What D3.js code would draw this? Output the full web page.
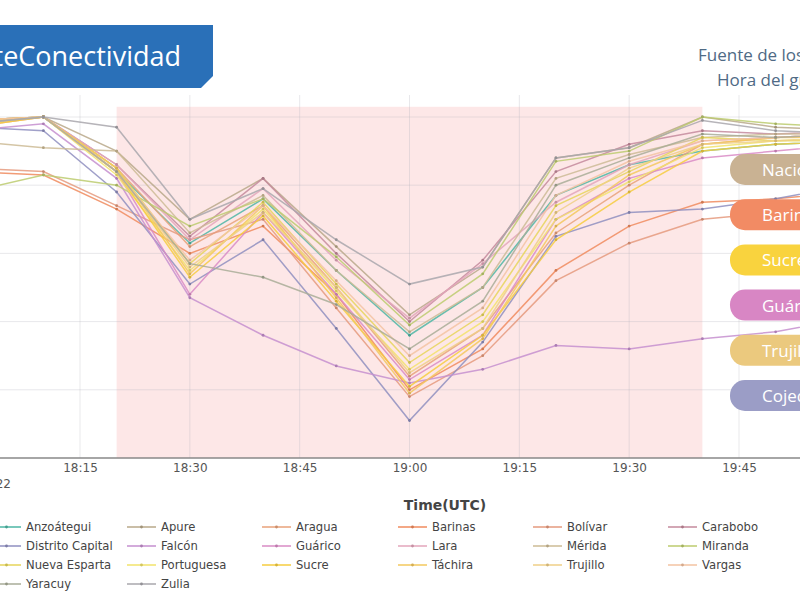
<!DOCTYPE html>
<html>
<head>
<meta charset="utf-8">
<script src="https://cdn.jsdelivr.net/npm/d3@7"></script>
<style>
  body { margin: 0; background: #fff; }
  svg { display: block; }
</style>
</head>
<body>
<div class="content"></div>
<script>
// time points every 10 minutes (UTC)
var times = ["18:00","18:10","18:20","18:30","18:40","18:50","19:00","19:10","19:20","19:30","19:40","19:50","20:00"];
var tickLabels = ["18:15","18:30","18:45","19:00","19:15","19:30","19:45"];
var yTicks = [20, 40, 60, 80, 100];

var states = ["Anzoátegui","Apure","Aragua","Barinas","Bolívar","Carabobo",
              "Distrito Capital","Falcón","Guárico","Lara","Mérida","Miranda",
              "Nueva Esparta","Portuguesa","Sucre","Táchira","Trujillo","Vargas",
              "Yaracuy","Zulia"];

var colors = ["#4db6a4","#b8a88a","#e8a27a","#f08b5e","#e59a7e","#c48a9c",
              "#8f8fc0","#c58fcf","#d98bc5","#e3a6bb","#cdbb95","#bccb6e",
              "#e6d55a","#f2e36b","#f6cd3f","#f3c85e","#efcf87","#f3c3a2",
              "#a9ad98","#a9a7ad"];

var anzoategui = [99,100,84,63,76,55,36,50,77,86,90,92,93];
var apure      = [98,100,90,70,82,62,42,56,88,91,100,97,96];
var aragua     = [97,100,85,62,74,50,24,38,66,80,92,94,95];
var barinas    = [84,83,73,60,68,48,20,32,55,68,75,76,78];
var bolivar    = [85,84,74,64,70,44,18,30,52,63,70,72,74];
var carabobo   = [99,100,86,65,82,60,40,58,84,92,96,95,96];
var distrito   = [97,96,78,51,64,38,11,34,65,72,73,76,80];
var falcon     = [96,98,82,47,36,27,22,26,33,32,35,37,41];
var guarico    = [98,100,84,48,72,48,23,36,70,82,88,90,92];
var lara       = [99,100,86,64,79,58,41,57,75,86,93,94,95];
var merida     = [93,91,90,66,77,55,37,50,82,89,94,95,95];
var miranda    = [78,83,80,68,76,59,39,54,87,90,100,98,97];
var nuevaEsp   = [99,100,85,57,75,51,28,42,74,84,94,93,93];
var portuguesa = [98,100,83,55,73,49,26,40,70,81,91,93,94];
var sucre      = [97,100,84,53,71,46,21,36,64,78,90,92,93];
var tachira    = [99,100,85,54,74,47,19,35,68,83,92,94,94];
var trujillo   = [98,100,84,56,72,50,25,38,72,85,92,93,94];
var vargas     = [99,100,84,58,74,52,30,44,77,87,93,94,95];
var yaracuy    = [98,100,84,57,53,45,32,46,80,88,95,94,95];
var zulia      = [98,100,97,70,79,64,51,56,88,91,99,96,95];

var values = [anzoategui,apure,aragua,barinas,bolivar,carabobo,distrito,falcon,
              guarico,lara,merida,miranda,nuevaEsp,portuguesa,sucre,tachira,
              trujillo,vargas,yaracuy,zulia];

var pills = ["Nacional","Barinas","Sucre","Guárico","Trujillo","Cojedes"];
var pillColors = ["#c9b293","#f28b64","#f9d33e","#d886c4","#ebc97e","#9b9dc6"];

var parse = d3.timeParse("%H:%M");

var svg = d3.select(".content")
  .append("svg")
  .attr("width", 800)
  .attr("height", 600)

var x = d3.scaleTime()
  .domain([parse("18:15"), parse("19:45")])
  .range([80, 739])

var y = d3.scaleLinear()
  .domain([0, 100])
  .range([458, 117])

// outage window
svg.append("rect")
  .attr("x", x(parse("18:20")))
  .attr("y", y(103))
  .attr("width", x(parse("19:40")) - x(parse("18:20")))
  .attr("height", y(0) - y(103))
  .attr("fill", "#fde7e7")

// grid
svg.selectAll(".vgrid")
  .data(tickLabels)
  .enter()
  .append("line")
  .attr("x1", function(d){ return x(parse(d)); })
  .attr("x2", function(d){ return x(parse(d)); })
  .attr("y1", 95)
  .attr("y2", 458)
  .attr("stroke", "rgba(180,180,190,0.3)")

svg.selectAll(".hgrid")
  .data(yTicks)
  .enter()
  .append("line")
  .attr("x1", 0)
  .attr("x2", 800)
  .attr("y1", function(d){ return y(d); })
  .attr("y2", function(d){ return y(d); })
  .attr("stroke", "rgba(180,180,190,0.3)")

// axis
svg.append("line")
  .attr("x1", 0).attr("x2", 800)
  .attr("y1", 458).attr("y2", 458)
  .attr("stroke", "#888")
  .attr("stroke-width", 1.5)

var xAxis = svg.append("g")
  .attr("transform", "translate(0,458)")
  .call(d3.axisBottom(x)
    .tickValues(tickLabels.map(parse))
    .tickFormat(d3.timeFormat("%H:%M"))
    .tickSize(0)
    .tickPadding(5))
xAxis.select(".domain").remove()
xAxis.selectAll("text")
  .attr("font-family", "DejaVu Sans")
  .attr("font-size", 12)
  .attr("fill", "#555")

svg.append("text")
  .text("2022")
  .attr("x", 11)
  .attr("y", 488)
  .attr("text-anchor", "end")
  .attr("font-family", "DejaVu Sans")
  .attr("font-size", 12)
  .attr("fill", "#555")

svg.append("text")
  .text("Time(UTC)")
  .attr("x", 445)
  .attr("y", 510)
  .attr("text-anchor", "middle")
  .attr("font-family", "DejaVu Sans")
  .attr("font-weight", "bold")
  .attr("font-size", 14)
  .attr("fill", "#444")

// series
var line = d3.line()
  .x(function(d, i){ return x(parse(times[i])); })
  .y(function(d){ return y(d); })

var g = svg.selectAll(".series")
  .data(values)
  .enter()
  .append("g")
  .attr("class", "series")

g.append("path")
  .attr("d", function(d){ return line(d); })
  .attr("fill", "none")
  .attr("stroke", function(d, i){ return colors[i]; })
  .attr("stroke-width", 1.5)
  .attr("opacity", 0.85)

g.each(function(d, k) {
  d3.select(this).selectAll("circle")
    .data(d)
    .enter()
    .append("circle")
    .attr("cx", function(v, i){ return x(parse(times[i])); })
    .attr("cy", function(v){ return y(v); })
    .attr("r", 1.4)
    .attr("fill", d3.color(colors[k]).darker(0.4))
})

// title box
svg.append("path")
  .attr("d", "M-10,25 L213,25 L213,76 L201,88 L-10,88 Z")
  .attr("fill", "#2a70b8")

svg.append("text")
  .text("#ReporteConectividad")
  .attr("x", 181)
  .attr("y", 66)
  .attr("text-anchor", "end")
  .attr("font-family", "Open Sans")
  .attr("font-size", 27)
  .attr("fill", "#fff")

svg.append("text")
  .text("Fuente de los datos: IODA")
  .attr("x", 698)
  .attr("y", 61)
  .attr("font-family", "Open Sans")
  .attr("font-size", 17)
  .attr("fill", "#4f6a85")

svg.append("text")
  .text("Hora del gráfico: UTC")
  .attr("x", 717)
  .attr("y", 86)
  .attr("font-family", "Open Sans")
  .attr("font-size", 17)
  .attr("fill", "#4f6a85")

// right side labels
var p = svg.selectAll(".pill")
  .data(pills)
  .enter()
  .append("g")
  .attr("class", "pill")
  .attr("transform", function(d, i){ return "translate(730," + (154 + i * 45.2) + ")"; })

p.append("rect")
  .attr("width", 130)
  .attr("height", 31)
  .attr("rx", 15)
  .attr("fill", function(d, i){ return pillColors[i]; })

p.append("text")
  .text(function(d){ return d; })
  .attr("x", 32)
  .attr("y", 22)
  .attr("font-family", "Open Sans")
  .attr("font-size", 17)
  .attr("fill", "#fff")

// legend
var colX = [-8, 127, 262, 398, 533, 668];
var leg = svg.selectAll(".leg")
  .data(states)
  .enter()
  .append("g")
  .attr("class", "leg")
  .attr("transform", function(d, i){
    return "translate(" + colX[i % 6] + "," + (527 + Math.floor(i / 6) * 19) + ")";
  })

leg.append("line")
  .attr("x1", 0).attr("x2", 29)
  .attr("stroke", function(d, i){ return colors[i]; })
  .attr("stroke-width", 1.5)

leg.append("circle")
  .attr("cx", 14.5)
  .attr("r", 1.4)
  .attr("fill", function(d, i){ return d3.color(colors[i]).darker(0.4); })

leg.append("text")
  .text(function(d){ return d; })
  .attr("x", 34)
  .attr("y", 4)
  .attr("font-family", "DejaVu Sans")
  .attr("font-size", 11.6)
  .attr("fill", "#444")
</script>
</body>
</html>
